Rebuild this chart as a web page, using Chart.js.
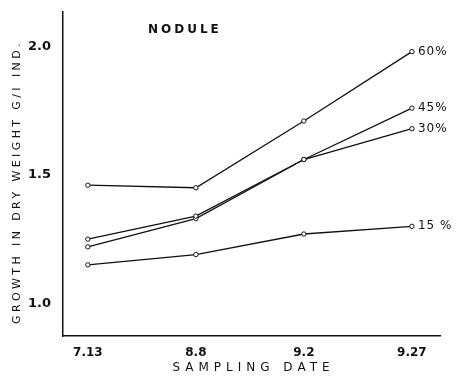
<!DOCTYPE html>
<html>
<head>
<meta charset="utf-8">
<script src="https://cdn.jsdelivr.net/npm/chart.js@4/dist/chart.umd.min.js"></script>
<style>
  html, body { margin: 0; padding: 0; background: #fff; }
  #wrap { width: 469px; height: 380px; }
</style>
</head>
<body>
<div id="wrap"><canvas id="myChart" width="469" height="380"></canvas></div>
<script>
// sampling dates (x categories)
const dates = ['7.13', '8.8', '9.2', '9.27'];
// series end labels
const seriesNames = ['60%', '45%', '30%', '15 %'];
// growth in dry weight, g / ind.
const growth60 = [1.46, 1.45, 1.71, 1.98];
const growth45 = [1.25, 1.34, 1.56, 1.76];
const growth30 = [1.22, 1.33, 1.56, 1.68];
const growth15 = [1.15, 1.19, 1.27, 1.30];
const yTicks = [1.0, 1.5, 2.0];
const yTickLabels = ['1.0', '1.5', '2.0'];

const ink = '#111';
const allSeries = [growth60, growth45, growth30, growth15];

function toPoints(values) {
    return values.map((v, i) => ({ x: i, y: v }));
}

const labelsPlugin = {
    id: 'scanLabels',
    afterDraw(chart) {
        const ctx = chart.ctx;
        const xs = chart.scales.x;
        const ys = chart.scales.y;
        ctx.save();
        ctx.fillStyle = ink;
        ctx.textBaseline = 'middle';

        // series labels at the last point
        ctx.font = '12px "DejaVu Sans"';
        ctx.letterSpacing = '1px';
        ctx.textAlign = 'left';
        allSeries.forEach((vals, i) => {
            const last = vals.length - 1;
            ctx.fillText(seriesNames[i], xs.getPixelForValue(last) + 6, ys.getPixelForValue(vals[last]));
        });

        // panel name
        ctx.font = 'bold 12px "DejaVu Sans"';
        ctx.letterSpacing = '3px';
        ctx.fillText('NODULE', 148, 30);

        // x title
        ctx.font = '12px "DejaVu Sans"';
        ctx.letterSpacing = '5px';
        ctx.textAlign = 'center';
        ctx.fillText('SAMPLING DATE', (chart.chartArea.left + chart.chartArea.right) / 2 + 2, 368);

        // y title
        ctx.translate(17, 182);
        ctx.rotate(-Math.PI / 2);
        ctx.font = '11px "DejaVu Sans"';
        ctx.letterSpacing = '3.4px';
        ctx.fillText('GROWTH IN DRY WEIGHT G/I IND.', 0, 0);
        ctx.restore();
    }
};

const ctx = document.getElementById('myChart').getContext('2d');
const myChart = new Chart(ctx, {
    type: 'line',
    data: {
        datasets: allSeries.map((vals, i) => ({
            label: seriesNames[i],
            data: toPoints(vals),
            borderColor: ink,
            borderWidth: 1.3,
            backgroundColor: '#fff',
            pointRadius: 2.2,
            pointBorderWidth: 1,
            pointBorderColor: ink,
            pointBackgroundColor: '#fff',
            tension: 0
        }))
    },
    options: {
        responsive: false,
        animation: false,
        layout: { padding: { top: 0, right: 29, left: 0, bottom: 0 } },
        plugins: {
            legend: { display: false },
            tooltip: { enabled: false }
        },
        scales: {
            x: {
                type: 'linear',
                min: -0.23,
                max: 3.26,
                afterBuildTicks(scale) {
                    scale.ticks = dates.map((d, i) => ({ value: i }));
                },
                afterFit(scale) { scale.height = 44; },
                grid: { display: false },
                border: { display: true, color: ink, width: 1.5 },
                ticks: {
                    color: ink,
                    padding: 2,
                    autoSkip: false,
                    maxRotation: 0,
                    font: { family: 'DejaVu Sans', size: 12, weight: 'bold' },
                    callback: (v) => dates[v]
                }
            },
            y: {
                type: 'linear',
                min: 0.873,
                max: 2.135,
                afterBuildTicks(scale) {
                    scale.ticks = yTicks.map(v => ({ value: v }));
                },
                afterFit(scale) { scale.width = 63; },
                grid: { display: false },
                border: { display: true, color: ink, width: 1.5 },
                ticks: {
                    color: ink,
                    padding: 4,
                    font: { family: 'DejaVu Sans', size: 13, weight: 'bold' },
                    callback: (v) => yTickLabels[yTicks.indexOf(v)]
                }
            }
        }
    },
    plugins: [labelsPlugin]
});
</script>
</body>
</html>
